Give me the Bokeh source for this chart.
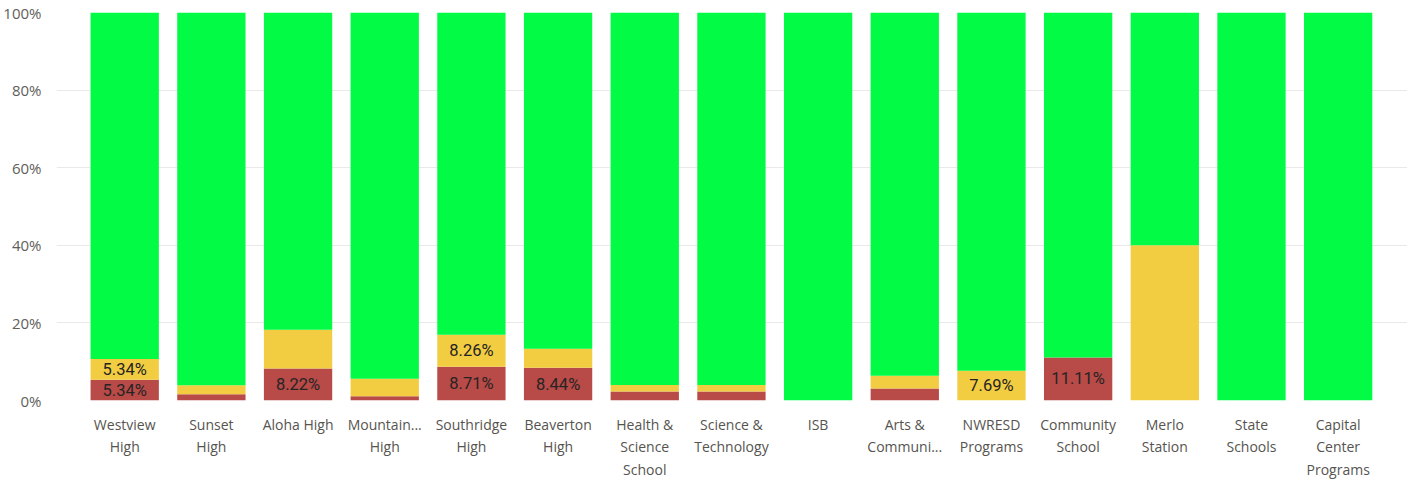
from bokeh.plotting import figure
from bokeh.models import ColumnDataSource, FixedTicker, PrintfTickFormatter, Range1d
from bokeh.embed import file_html
from bokeh.resources import INLINE
from bokeh.core.properties import value

schools = ["Westview\nHigh", "Sunset\nHigh", "Aloha High", "Mountain...\nHigh", "Southridge\nHigh",
           "Beaverton\nHigh", "Health &\nScience\nSchool", "Science &\nTechnology", "ISB",
           "Arts &\nCommuni...", "NWRESD\nPrograms", "Community\nSchool", "Merlo\nStation",
           "State\nSchools", "Capital\nCenter\nPrograms"]
red = [5.34, 1.6, 8.22, 1.1, 8.71, 8.44, 2.3, 2.3, 0.0, 3.1, 0.0, 11.11, 0.0, 0.0, 0.0]
yellow = [5.34, 2.3, 10.0, 4.5, 8.26, 4.9, 1.7, 1.7, 0.0, 3.3, 7.69, 0.0, 40.0, 0.0, 0.0]
red_labels = ["5.34%", "", "8.22%", "", "8.71%", "8.44%", "", "", "", "", "", "11.11%", "", "", ""]
yellow_labels = ["5.34%", "", "", "", "8.26%", "", "", "", "", "", "7.69%", "", "", "", ""]
y_ticks = [0, 20, 40, 60, 80, 100]

idx = list(range(len(schools)))
green = [100 - r - y for r, y in zip(red, yellow)]
src = ColumnDataSource(dict(x=idx, red=red, yellow=yellow, green=green))

p = figure(frame_width=1351, frame_height=388, output_backend="svg", toolbar_location=None,
           x_range=Range1d(-0.787, len(schools) - 1 + 0.80), y_range=Range1d(0, 100),
           min_border_left=49, min_border_right=0, min_border_top=12, min_border_bottom=40)
p.outline_line_color = None
p.background_fill_color = "white"
p.border_fill_color = "white"

p.vbar_stack(["red", "yellow", "green"], x="x", width=0.788, source=src,
             color=["#B84A48", "#F2CD42", "#02FB45"], line_color=None)

# labels
lx, ly, lt = [], [], []
for i in idx:
    if red_labels[i]:
        lx.append(i); ly.append(red[i] / 2); lt.append(red_labels[i])
    if yellow_labels[i]:
        lx.append(i); ly.append(red[i] + yellow[i] / 2); lt.append(yellow_labels[i])
p.text(x=lx, y=ly, text=lt, text_align="center", text_baseline="middle",
       text_font=value("Roboto"), text_font_size="16.5px", text_color="#252423")

p.xgrid.visible = False
p.ygrid.grid_line_color = "#E9E9E9"
p.ygrid.ticker = FixedTicker(ticks=y_ticks)

p.yaxis.ticker = FixedTicker(ticks=y_ticks)
p.yaxis.formatter = PrintfTickFormatter(format="%d%%")
p.yaxis.axis_line_color = None
p.yaxis.major_tick_line_color = None
p.yaxis.minor_tick_line_color = None
p.yaxis.major_label_standoff = 9
p.yaxis.major_label_text_font = "Open Sans"
p.yaxis.major_label_text_font_size = "15px"
p.yaxis.major_label_text_color = "#605E5C"

p.xaxis.ticker = FixedTicker(ticks=idx)
p.xaxis.major_label_overrides = {i: s for i, s in zip(idx, schools)}
p.xaxis.axis_line_color = None
p.xaxis.major_tick_line_color = None
p.xaxis.minor_tick_line_color = None
p.xaxis.major_label_standoff = 8
p.xaxis.major_label_text_font = "Open Sans"
p.xaxis.major_label_text_font_size = "14px"
p.xaxis.major_label_text_color = "#56544F"

open("out.html", "w").write(file_html(p, INLINE))
